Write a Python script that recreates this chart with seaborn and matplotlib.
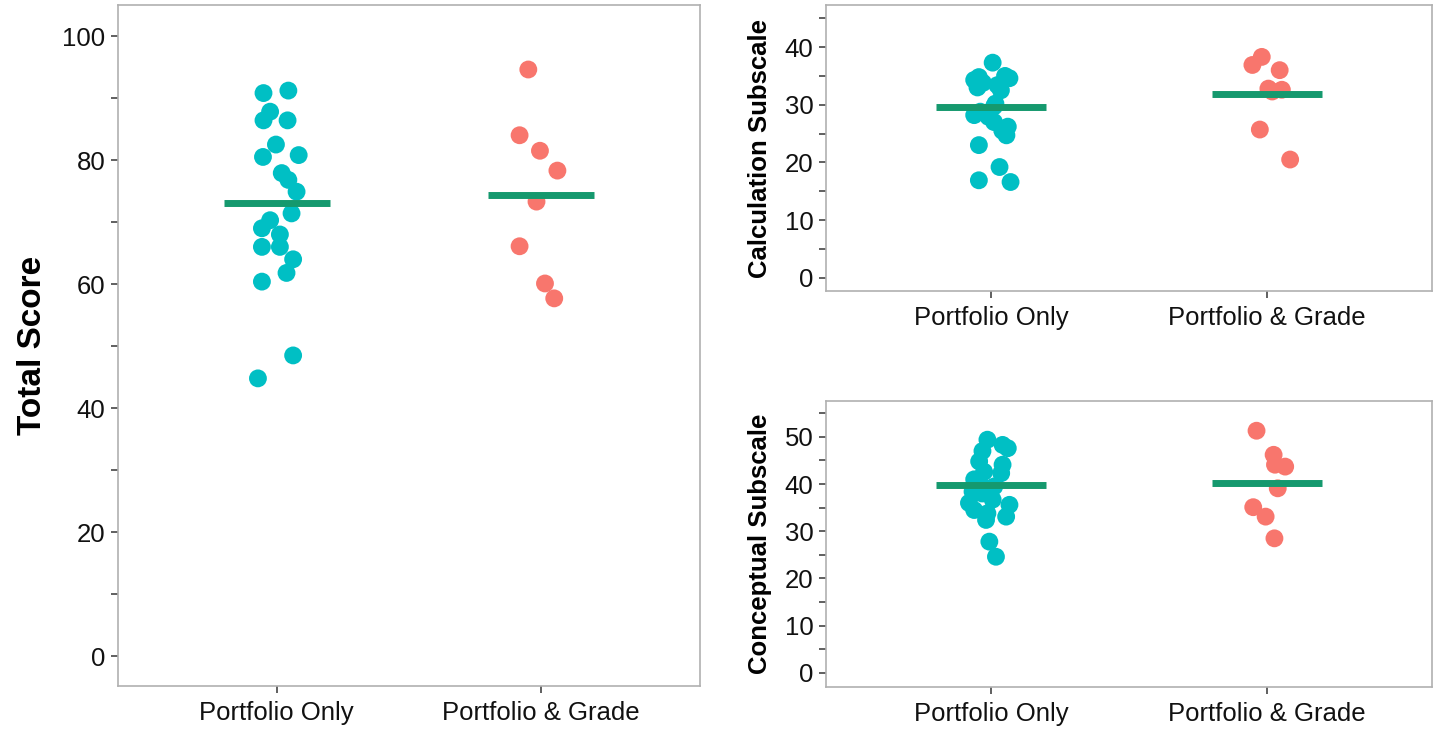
import numpy as np
import pandas as pd
import matplotlib
matplotlib.use("Agg")
import matplotlib.pyplot as plt
import seaborn as sns
from matplotlib.ticker import FixedLocator, FuncFormatter

# ---------------- data ----------------
groups = ["Portfolio Only", "Portfolio & Grade"]
palette = {"Portfolio Only": "#00BFC4", "Portfolio & Grade": "#F8766D"}

# Total score
total_only = [90.8, 91.2, 87.8, 86.4, 86.4, 82.5, 80.5, 80.8, 77.9, 76.8, 74.9,
              71.4, 70.3, 69.0, 68.0, 66.0, 66.0, 64.0, 61.8, 60.4, 48.5, 44.8]
total_only_jit = [-0.050, 0.044, -0.025, -0.050, 0.041, -0.003, -0.052, 0.083, 0.019, 0.044, 0.075,
                  0.056, -0.025, -0.056, 0.012, -0.056, 0.012, 0.062, 0.037, -0.056, 0.062, -0.071]
total_grade = [94.6, 84.0, 81.5, 78.3, 73.3, 66.1, 60.1, 57.7]
total_grade_jit = [-0.049, -0.082, -0.005, 0.061, -0.018, -0.082, 0.014, 0.049]
total_means = [73.0, 74.3]

# Calculation subscale
calc_only = [37.3, 34.3, 34.8, 33.0, 34.6, 33.4, 35.0, 32.5, 33.8, 30.2, 29.7,
             28.2, 27.9, 28.8, 27.0, 26.2, 24.7, 25.5, 23.0, 19.2, 16.9, 16.6]
calc_only_jit = [0.005, -0.062, -0.045, -0.050, 0.066, 0.022, 0.050, 0.035, -0.030, 0.015, 0.010,
                 -0.062, -0.010, -0.040, 0.010, 0.060, 0.055, 0.040, -0.045, 0.030, -0.045, 0.070]
calc_grade = [38.3, 36.9, 36.0, 32.8, 32.6, 32.3, 25.7, 20.5]
calc_grade_jit = [-0.018, -0.052, 0.047, 0.006, 0.055, 0.020, -0.025, 0.085]
calc_means = [29.6, 31.9]

# Conceptual subscale
conc_only = [49.4, 48.3, 47.6, 47.0, 44.8, 44.1, 42.6, 42.3, 41.0, 39.5, 38.4,
             38.0, 36.7, 36.0, 35.6, 34.5, 33.8, 33.1, 32.4, 27.8, 24.6, 40.5]
conc_only_jit = [-0.014, 0.041, 0.060, -0.032, -0.044, 0.041, -0.026, 0.036, -0.062, 0.011, -0.068,
                 -0.033, 0.005, -0.081, 0.066, -0.062, -0.014, 0.054, -0.019, -0.007, 0.017, -0.044]
conc_grade = [51.3, 46.2, 44.1, 43.7, 39.1, 35.1, 33.1, 28.5]
conc_grade_jit = [-0.037, 0.025, 0.030, 0.067, 0.040, -0.049, -0.004, 0.028]
conc_means = [39.8, 40.2]


def make_df(only, only_jit, grade, grade_jit):
    rows = []
    for v, j in zip(only, only_jit):
        rows.append((groups[0], 0 + j, v))
    for v, j in zip(grade, grade_jit):
        rows.append((groups[1], 1 + j, v))
    return pd.DataFrame(rows, columns=["group", "xpos", "score"])


# ---------------- style ----------------
sns.set_theme(style="white")
plt.rcParams["font.family"] = ["Liberation Sans", "DejaVu Sans"]

W, H = 1439, 733
fig = plt.figure(figsize=(W / 100, H / 100), dpi=100)


def px_axes(left, top, right, bottom):
    return fig.add_axes([left / W, (H - bottom) / H, (right - left) / W, (bottom - top) / H])


SPINE = "#b0b0b0"
LINE = "#15996E"


def draw(ax, df, means, ylim, step, label_step, ylabel, lab_size, lab_pad):
    sns.scatterplot(data=df, x="xpos", y="score", hue="group", palette=palette,
                    s=165, linewidth=0, alpha=1.0, legend=False, ax=ax, zorder=2)
    for i, m in enumerate(means):
        ax.hlines(m, i - 0.2, i + 0.2, color=LINE, linewidth=5, zorder=3)
    ax.set_xlim(-0.6, 1.6)
    ax.set_ylim(*ylim)
    ax.set_xticks([0, 1])
    ax.set_xticklabels(groups)
    ticks = np.arange(0, ylim[1], step)
    ax.yaxis.set_major_locator(FixedLocator(ticks))
    ax.yaxis.set_major_formatter(FuncFormatter(
        lambda v, p: f"{int(round(v))}" if int(round(v)) % label_step == 0 else ""))
    ax.tick_params(axis="both", which="major", length=5, width=1.2, color="#444444",
                   labelsize=18.5, labelcolor="#111111", direction="out",
                   left=True, bottom=True)
    ax.tick_params(axis="y", pad=4)
    ax.tick_params(axis="x", pad=6)
    ax.set_xlabel("")
    ax.set_ylabel(ylabel, fontsize=lab_size, fontweight="bold", color="black", labelpad=lab_pad)
    for s in ax.spines.values():
        s.set_visible(True)
        s.set_color(SPINE)
        s.set_linewidth(1.2)
    ax.set_facecolor("white")


ax_total = px_axes(118, 5, 700, 686)
draw(ax_total, make_df(total_only, total_only_jit, total_grade, total_grade_jit),
     total_means, (-4.8, 105), 10, 20, "Total Score", 24, 10)

ax_calc = px_axes(826, 5, 1432, 291)
draw(ax_calc, make_df(calc_only, calc_only_jit, calc_grade, calc_grade_jit),
     calc_means, (-2.3, 47.3), 5, 10, "Calculation Subscale", 18.5, 9)

ax_conc = px_axes(826, 401, 1432, 687)
draw(ax_conc, make_df(conc_only, conc_only_jit, conc_grade, conc_grade_jit),
     conc_means, (-3.0, 57.6), 5, 10, "Conceptual Subscale", 18.5, 9)

fig.savefig("out.png", dpi=100, facecolor="white")
